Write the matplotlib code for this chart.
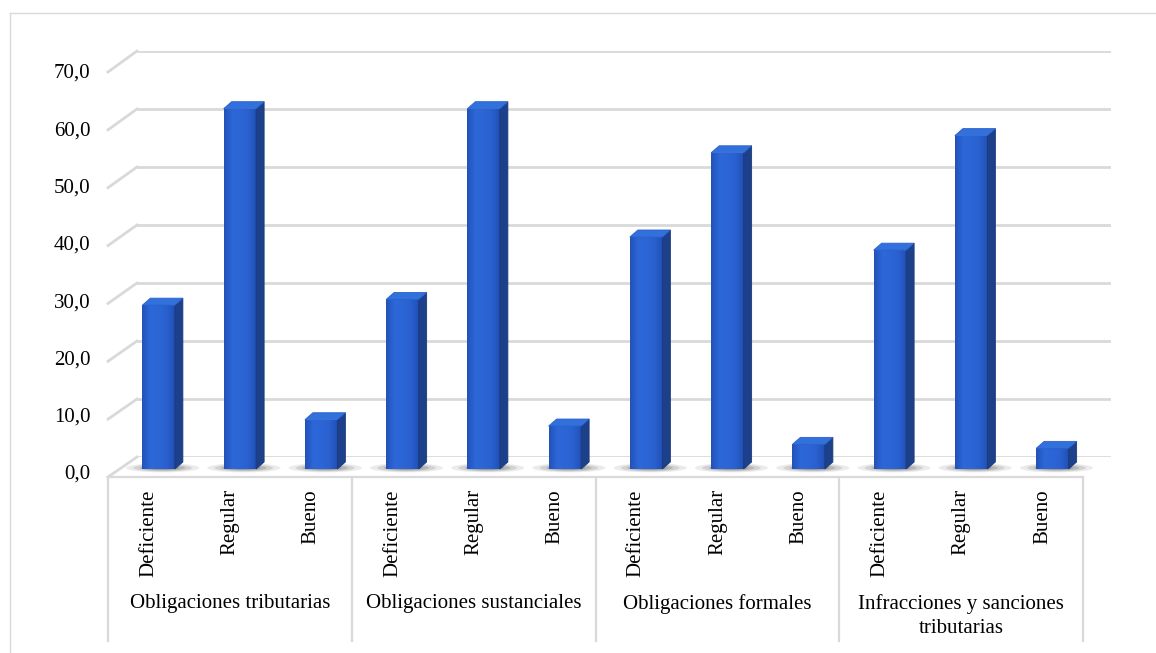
import numpy as np
import matplotlib
matplotlib.use("Agg")
import matplotlib.pyplot as plt
import matplotlib.transforms as mtransforms
from matplotlib.patches import Polygon, Ellipse
from matplotlib.lines import Line2D
from matplotlib.colors import LinearSegmentedColormap

# porcentaje por nivel en cada dimension
grupos = ["Obligaciones tributarias", "Obligaciones sustanciales",
          "Obligaciones formales", "Infracciones y sanciones\ntributarias"]
niveles = ["Deficiente", "Regular", "Bueno"]
tributarias = [28.6, 62.9, 8.6]
sustanciales = [29.6, 62.9, 7.5]
formales = [40.5, 55.2, 4.3]
infracciones = [38.2, 58.2, 3.6]
ticks_y = [0, 10, 20, 30, 40, 50, 60, 70]

W, H = 1156, 653
GRID = "#d9d9d9"
plt.rcParams['font.family'] = ['Liberation Serif', 'DejaVu Serif']

fig = plt.figure(figsize=(W / 100, H / 100), dpi=100)


def px_axes(left, right, y_cero, y_max, z):
    """Axes placed in pixels: x span and the pixel rows of y=0 and y=70."""
    a = fig.add_axes([left / W, 1 - y_cero / H, (right - left) / W, (y_cero - y_max) / H])
    a.set_xlim(-0.5, 11.5)
    a.set_ylim(0, 70)
    a.set_facecolor("none")
    a.set_zorder(z)
    for s in a.spines.values():
        s.set_visible(False)
    a.set_xticks([])
    a.set_yticks([])
    return a


ax_back = px_axes(137, 1111, 457, 51, 0)    # pared del fondo
ax_front = px_axes(108, 1083, 477, 72, 1)   # plano frontal / tabla de categorias
ax = px_axes(118, 1093, 469, 68, 2)         # plano de las barras

# marco exterior del grafico
fig.add_artist(Line2D([10 / W, 1], [1 - 13 / H, 1 - 13 / H], color=GRID, lw=1.0))
fig.add_artist(Line2D([10 / W, 10 / W], [0, 1 - 13 / H], color=GRID, lw=1.0))

# lineas de division en la pared del fondo y en la pared lateral
to_fig = fig.transFigure.inverted()
for v in ticks_y:
    ax_back.axhline(v, color=GRID, lw=2.0)
    pf = to_fig.transform(ax_front.transData.transform((-0.5, v)))
    pb = to_fig.transform(ax_back.transData.transform((-0.5, v)))
    fig.add_artist(Line2D([pf[0], pb[0]], [pf[1], pb[1]], color=GRID, lw=2.0))

# tabla de categorias bajo el piso
tab = ax_front.get_xaxis_transform()
ax_front.plot([-0.5, 11.5], [0, 0], color=GRID, lw=1.6, transform=tab, clip_on=False)
for xv in [-0.5, 2.5, 5.5, 8.5, 11.5]:
    ax_front.plot([xv, xv], [0, -0.405], color=GRID, lw=1.6, transform=tab, clip_on=False)

for g, grupo in enumerate(grupos):
    for k, nivel in enumerate(niveles):
        ax_front.text(3 * g + k, -0.03, nivel, rotation=90, ha="center", va="top",
                      fontsize=15, transform=tab)
    ax_front.text(3 * g + 1, -0.29, grupo, ha="center", va="top", fontsize=15,
                  transform=tab, linespacing=1.3)

# barras
valores = tributarias + sustanciales + formales + infracciones
x = np.arange(len(valores))
ancho = 0.4

p0 = ax.transData.transform((0, 0))
inv = ax.transData.inverted()
ddx, ddy = inv.transform(p0 + np.array([8.0, 7.0])) - inv.transform(p0)

frente = LinearSegmentedColormap.from_list(
    "frente", ["#2352b8", "#2d67d8", "#2c66d6", "#2a60cf", "#2150b6"])
grad = np.linspace(0, 1, 64).reshape(1, -1)

barras = ax.bar(x, valores, width=ancho, color="#2a60cf", zorder=3, linewidth=0)

for xi, v, b in zip(x, valores, barras):
    # sombra sobre el piso
    for esc, al in [(1.0, 0.12), (0.8, 0.18), (0.62, 0.24), (0.45, 0.3)]:
        ax.add_patch(Ellipse((xi + 0.05, 0.2), 0.9 * esc, 1.6 * esc, color="#5f5f5f",
                             alpha=al, lw=0, zorder=2, clip_on=False))
    im = ax.imshow(grad, extent=[xi - ancho / 2, xi + ancho / 2, 0, v], aspect="auto",
                   cmap=frente, zorder=3.1, interpolation="bicubic")
    im.set_clip_path(b)
    xr = xi + ancho / 2
    xl = xi - ancho / 2
    ax.add_patch(Polygon([(xr, 0), (xr, v), (xr + ddx, v + ddy), (xr + ddx, ddy)],
                         closed=True, facecolor="#1d408a", edgecolor="#1a3a7c",
                         lw=0.6, zorder=3.2, clip_on=False))
    ax.add_patch(Polygon([(xl, v), (xr, v), (xr + ddx, v + ddy), (xl + ddx, v + ddy)],
                         closed=True, facecolor="#3270dc", edgecolor="#2a62cc",
                         lw=0.6, zorder=3.3, clip_on=False))

ax.set_xlim(-0.5, 11.5)
ax.set_ylim(0, 70)

# etiquetas del eje vertical
ax.set_yticks(ticks_y)
ax.set_yticklabels([f"{t:.1f}".replace(".", ",") for t in ticks_y], fontsize=15)
ax.tick_params(axis="y", length=0, pad=20)
bajar = mtransforms.ScaledTranslation(0, -3 / 100, fig.dpi_scale_trans)
for lab in ax.get_yticklabels():
    lab.set_transform(lab.get_transform() + bajar)

fig.savefig("out.png", dpi=100, facecolor="white")
